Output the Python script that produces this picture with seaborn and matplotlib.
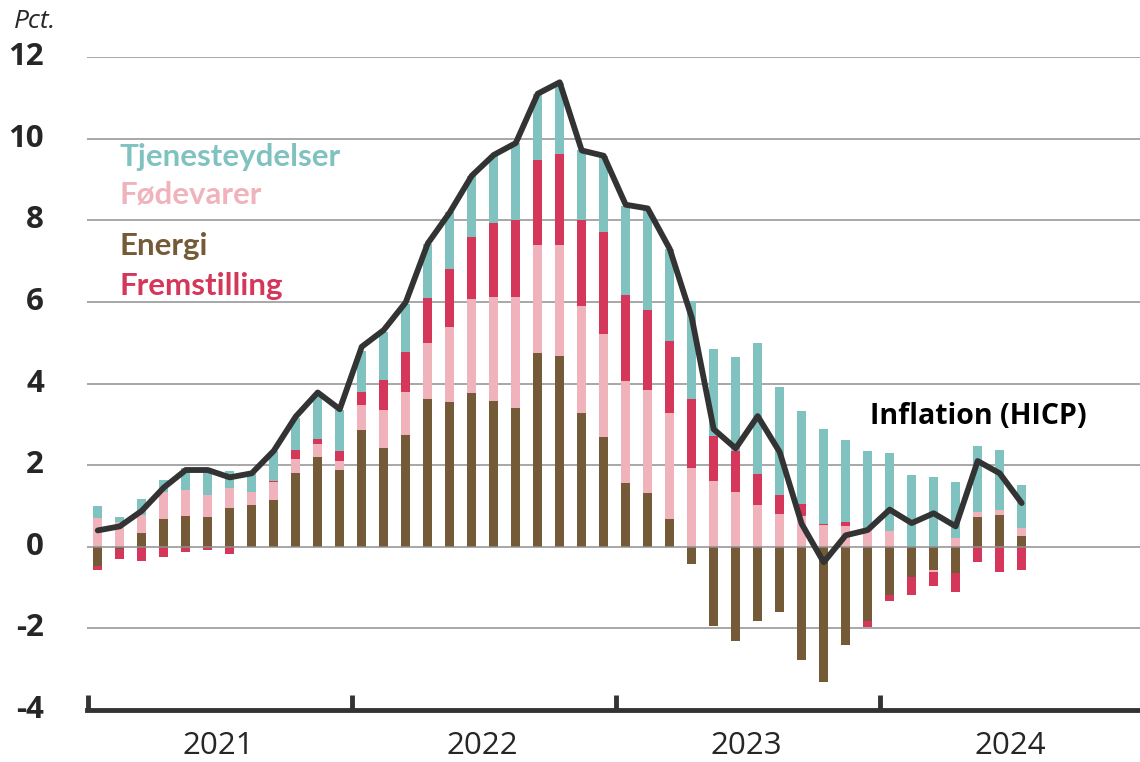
import numpy as np
import matplotlib.pyplot as plt
import seaborn as sns

# monthly contributions to HICP, Jan 2021 - Jul 2024 (pct. points)
energi = [-0.47, -0.05, 0.34, 0.69, 0.76, 0.74, 0.94, 1.02, 1.14, 1.80, 2.19, 1.88,
          2.87, 2.43, 2.73, 3.63, 3.54, 3.76, 3.56, 3.39, 4.74, 4.67, 3.27, 2.68,
          1.57, 1.32, 0.68, -0.42, -1.95, -2.32, -1.81, -1.61, -2.78, -3.31, -2.40, -1.81,
          -1.17, -0.74, -0.56, -0.65, 0.72, 0.78, 0.27]
foedevarer = [0.70, 0.60, 0.44, 0.66, 0.63, 0.52, 0.51, 0.33, 0.44, 0.36, 0.33, 0.23,
              0.60, 0.93, 1.07, 1.37, 1.84, 2.31, 2.57, 2.74, 2.66, 2.73, 2.63, 2.53,
              2.50, 2.53, 2.59, 1.94, 1.60, 1.34, 1.02, 0.80, 0.76, 0.53, 0.50, 0.42,
              0.39, 0.00, -0.05, 0.21, 0.14, 0.12, 0.18]
fremstilling = [-0.11, -0.24, -0.34, -0.25, -0.14, -0.07, -0.18, 0.00, 0.04, 0.22, 0.13, 0.23,
                0.31, 0.73, 0.96, 1.09, 1.42, 1.51, 1.81, 1.88, 2.08, 2.22, 2.11, 2.51,
                2.11, 1.96, 1.78, 1.69, 1.12, 1.01, 0.77, 0.47, 0.28, 0.02, 0.11, -0.16,
                -0.16, -0.43, -0.36, -0.46, -0.37, -0.63, -0.56]
tjenester = [0.30, 0.14, 0.40, 0.28, 0.55, 0.66, 0.40, 0.45, 0.73, 0.77, 1.05, 1.01,
             1.02, 1.16, 1.19, 1.34, 1.39, 1.51, 1.66, 1.88, 1.62, 1.74, 1.70, 1.86,
             2.18, 2.45, 2.25, 2.40, 2.13, 2.31, 3.20, 2.65, 2.29, 2.34, 2.01, 1.93,
             1.90, 1.76, 1.72, 1.38, 1.61, 1.48, 1.07]
hicp = [0.40, 0.50, 0.88, 1.45, 1.88, 1.88, 1.70, 1.80, 2.35, 3.19, 3.78, 3.37,
        4.90, 5.31, 5.99, 7.43, 8.19, 9.09, 9.60, 9.89, 11.10, 11.38, 9.71, 9.58,
        8.38, 8.29, 7.30, 5.62, 2.88, 2.41, 3.20, 2.32, 0.56, -0.38, 0.28, 0.41,
        0.91, 0.58, 0.82, 0.50, 2.10, 1.80, 1.07]
years = ["2021", "2022", "2023", "2024"]

komponenter = [("Energi", energi, "#745a36"),
               ("Fødevarer", foedevarer, "#f0b3bb"),
               ("Fremstilling", fremstilling, "#d4375a"),
               ("Tjenesteydelser", tjenester, "#7fc2c0")]

sns.set_style("white")
plt.rcParams["font.family"] = ["Open Sans", "DejaVu Sans"]

fig = plt.figure(figsize=(11.4, 7.62), dpi=100)
ax = fig.add_axes([87 / 1140, 1 - 710 / 762, 1 - 87 / 1140, (710 - 57) / 762])

x = np.arange(len(hicp))
pos = np.zeros(len(x))
neg = np.zeros(len(x))
for navn, vals, col in komponenter:
    v = np.array(vals)
    bund = np.where(v >= 0, pos, neg)
    ax.bar(x, v, bottom=bund, width=0.41, color=col, linewidth=0, zorder=2)
    pos = pos + np.clip(v, 0, None)
    neg = neg + np.clip(v, None, 0)

for yv in range(-2, 13, 2):
    ax.axhline(yv, color="#8f8f8f", lw=1.1, zorder=1 if yv else 3)

sns.lineplot(x=x, y=hicp, ax=ax, color="#333333", lw=4.2, zorder=5)

ax.set_xlim(-0.49, 47.38)
ax.set_ylim(-4, 12)
ax.set_yticks(range(-4, 13, 2))
ax.set_yticklabels([str(t) for t in range(-4, 13, 2)], fontsize=22.5, fontweight="bold")
ax.tick_params(axis="y", length=0, pad=31)
for lab in ax.get_yticklabels():
    lab.set_verticalalignment("center")

ax.set_xticks([12 * k - 0.44 for k in range(4)])
ax.set_xticklabels([])
ax.set_xticks([12 * k + 5.5 for k in range(4)], minor=True)
ax.set_xticklabels(years, minor=True, fontsize=22.5)
ax.tick_params(axis="x", which="major", bottom=True, direction="in", length=11, width=3.5,
               color="#333333")
ax.tick_params(axis="x", which="minor", bottom=True, length=0, pad=15)

for s in ["top", "right", "left"]:
    ax.spines[s].set_visible(False)
ax.spines["bottom"].set_color("#333333")
ax.spines["bottom"].set_linewidth(3.5)

fig.text(14 / 1140, 1 - 22 / 762, "Pct.", fontsize=19, fontstyle="italic", va="center")
fig.text(870 / 1140, 1 - 417 / 762, "Inflation (HICP)", fontsize=20.5, fontweight="bold",
         va="center", color="black")

legend_y = {"Tjenesteydelser": 165.7, "Fødevarer": 204, "Energi": 255, "Fremstilling": 295}
for navn, vals, col in komponenter:
    fig.text(120 / 1140, 1 - legend_y[navn] / 762, navn, color=col, fontsize=22.5,
             fontweight="bold", va="baseline", family=["Lato", "DejaVu Sans"])

fig.savefig("out.png", dpi=100)
